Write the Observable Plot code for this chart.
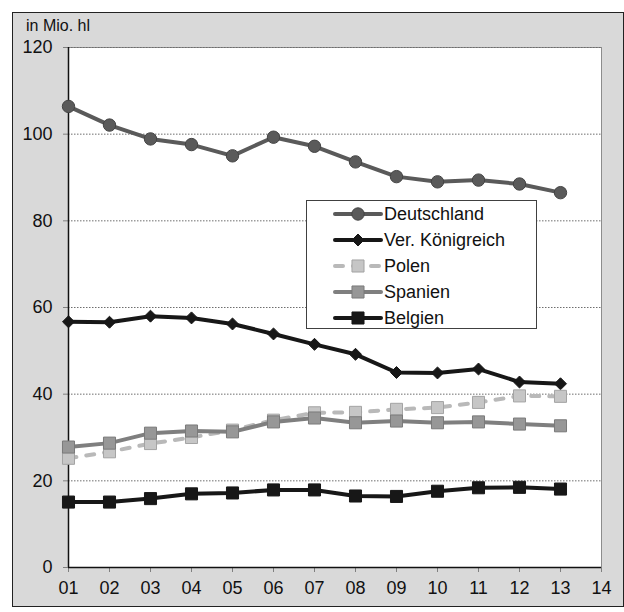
<!DOCTYPE html>
<html>
<head>
<meta charset="utf-8">
<script src="https://cdn.jsdelivr.net/npm/d3@7"></script>
<script src="https://cdn.jsdelivr.net/npm/@observablehq/plot@0.6"></script>
<style>
  body { margin: 0; background: #ffffff; font-family: "Liberation Sans", Arial, sans-serif; }
  #wrap { position: relative; width: 624px; height: 612px; overflow: hidden; }
  #bg { position: absolute; left: 12px; top: 12px; width: 610px; height: 593px; background: #d9d9d9; border: 1px solid #222; }
  #chart { position: absolute; left: 0; top: 0; }
  #ylabel { position: absolute; left: 26px; top: 17px; font-size: 16px; color: #111; white-space: nowrap; }
  #legend { position: absolute; left: 306px; top: 200px; width: 229px; height: 127px; background: #fff; border: 1px solid #404040; }
  .row { position: absolute; left: 0; height: 26px; width: 229px; }
  .row svg { position: absolute; left: 26px; top: 3px; }
  .row span { position: absolute; left: 77px; top: 2px; font-size: 18px; color: #111; white-space: nowrap; line-height: 22px; }
</style>
</head>
<body>
<div id="wrap">
  <div id="bg"></div>
  <div id="chart"></div>
  <div id="ylabel"></div>
  <div id="legend"></div>
</div>
<script>
// ---- data ----
const years = [1, 2, 3, 4, 5, 6, 7, 8, 9, 10, 11, 12, 13];
const seriesNames = ["Deutschland", "Ver. Königreich", "Polen", "Spanien", "Belgien"];
const deutschland = [106.4, 102.1, 98.9, 97.6, 95.0, 99.3, 97.2, 93.6, 90.2, 89.0, 89.4, 88.5, 86.5];
const vereinigtesKoenigreich = [56.7, 56.6, 58.0, 57.6, 56.2, 53.9, 51.5, 49.2, 45.0, 44.9, 45.8, 42.8, 42.4];
const polen = [25.2, 26.7, 28.6, 30.0, 31.7, 34.0, 35.7, 35.8, 36.5, 36.9, 38.1, 39.6, 39.5];
const spanien = [27.8, 28.7, 31.0, 31.5, 31.3, 33.6, 34.5, 33.4, 33.8, 33.4, 33.6, 33.1, 32.7];
const belgien = [15.1, 15.1, 15.9, 17.0, 17.2, 17.9, 17.9, 16.5, 16.4, 17.6, 18.4, 18.5, 18.1];
const xTickValues = [1, 2, 3, 4, 5, 6, 7, 8, 9, 10, 11, 12, 13, 14];
const xTickLabels = ["01", "02", "03", "04", "05", "06", "07", "08", "09", "10", "11", "12", "13", "14"];
const yTicks = [0, 20, 40, 60, 80, 100, 120];
const yLabel = "in Mio. hl";

// ---- styles ----
const seriesValues = [deutschland, vereinigtesKoenigreich, polen, spanien, belgien];
const styles = {
  "Deutschland":     {stroke: "#5a5a5a", fill: "#5a5a5a", mstroke: "#444444", symbol: "circle",   r: 6.2, dash: null},
  "Ver. Königreich": {stroke: "#171717", fill: "#171717", mstroke: "#171717", symbol: "diamond2", r: 5.4, dash: null},
  "Polen":           {stroke: "#b9b9b9", fill: "#c6c6c6", mstroke: "#a3a3a3", symbol: "square",   r: 6.8, dash: "8,10"},
  "Spanien":         {stroke: "#7f7f7f", fill: "#979797", mstroke: "#7a7a7a", symbol: "square",   r: 6.8, dash: null},
  "Belgien":         {stroke: "#171717", fill: "#171717", mstroke: "#171717", symbol: "square",   r: 6.8, dash: null}
};

const rows = seriesNames.flatMap((name, si) =>
  years.map((yr, i) => ({series: name, year: yr, value: seriesValues[si][i]})));

const seriesMarks = seriesNames.flatMap(name => {
  const s = styles[name];
  const d = rows.filter(r => r.series === name);
  return [
    Plot.line(d, {x: "year", y: "value", stroke: s.stroke, strokeWidth: 4,
      strokeDasharray: s.dash || undefined, strokeLinecap: "round", strokeLinejoin: "round"}),
    Plot.dot(d, {x: "year", y: "value", symbol: () => s.symbol, r: s.r, fill: s.fill,
      stroke: s.mstroke, strokeWidth: 1})
  ];
});

const chart = Plot.plot({
  width: 624,
  height: 612,
  marginLeft: 68,
  marginRight: 23,
  marginTop: 47,
  marginBottom: 45,
  style: {background: "transparent", fontFamily: "'Liberation Sans', Arial, sans-serif", color: "#111"},
  x: {domain: [1, 14], axis: null, label: null},
  y: {domain: [0, 120], axis: null, label: null},
  symbol: {type: "identity"},
  marks: [
    Plot.frame({fill: "white", stroke: "#8c8c8c"}),
    Plot.gridY(yTicks.filter(t => t > 0), {stroke: "#6e6e6e", strokeOpacity: 1, strokeDasharray: "1.5,1.5"}),
    Plot.axisY(yTicks, {tickSize: 5, tickPadding: 11, fontSize: 18, stroke: "#808080", fill: "#111", label: null}),
    Plot.axisX(xTickValues, {tickSize: 5, tickPadding: 9, fontSize: 18, stroke: "#808080", fill: "#111", label: null,
      tickFormat: d => xTickLabels[xTickValues.indexOf(d)]}),
    Plot.ruleX([1], {stroke: "#111", strokeWidth: 1.5}),
    Plot.ruleY([0], {stroke: "#111", strokeWidth: 1.5}),
    ...seriesMarks
  ]
});
document.getElementById("chart").appendChild(chart);
document.getElementById("ylabel").textContent = yLabel;

// ---- legend ----
const legend = document.getElementById("legend");
seriesNames.forEach((name, i) => {
  const s = styles[name];
  const row = document.createElement("div");
  row.className = "row";
  row.style.top = (i * 26) + "px";
  const svg = d3.create("svg").attr("width", 52).attr("height", 20);
  svg.append("line").attr("x1", 2).attr("x2", 48).attr("y1", 10).attr("y2", 10)
    .attr("stroke", s.stroke).attr("stroke-width", 4).attr("stroke-linecap", "round")
    .attr("stroke-dasharray", s.dash ? "8,10" : null);
  const sym = {circle: d3.symbolCircle, diamond2: d3.symbolDiamond2, square: d3.symbolSquare}[s.symbol];
  svg.append("path").attr("transform", "translate(25,10)")
    .attr("d", d3.symbol(sym, Math.PI * s.r * s.r)())
    .attr("fill", s.fill).attr("stroke", s.mstroke).attr("stroke-width", 1);
  row.appendChild(svg.node());
  const t = document.createElement("span");
  t.textContent = name;
  row.appendChild(t);
  legend.appendChild(row);
});
</script>
</body>
</html>
